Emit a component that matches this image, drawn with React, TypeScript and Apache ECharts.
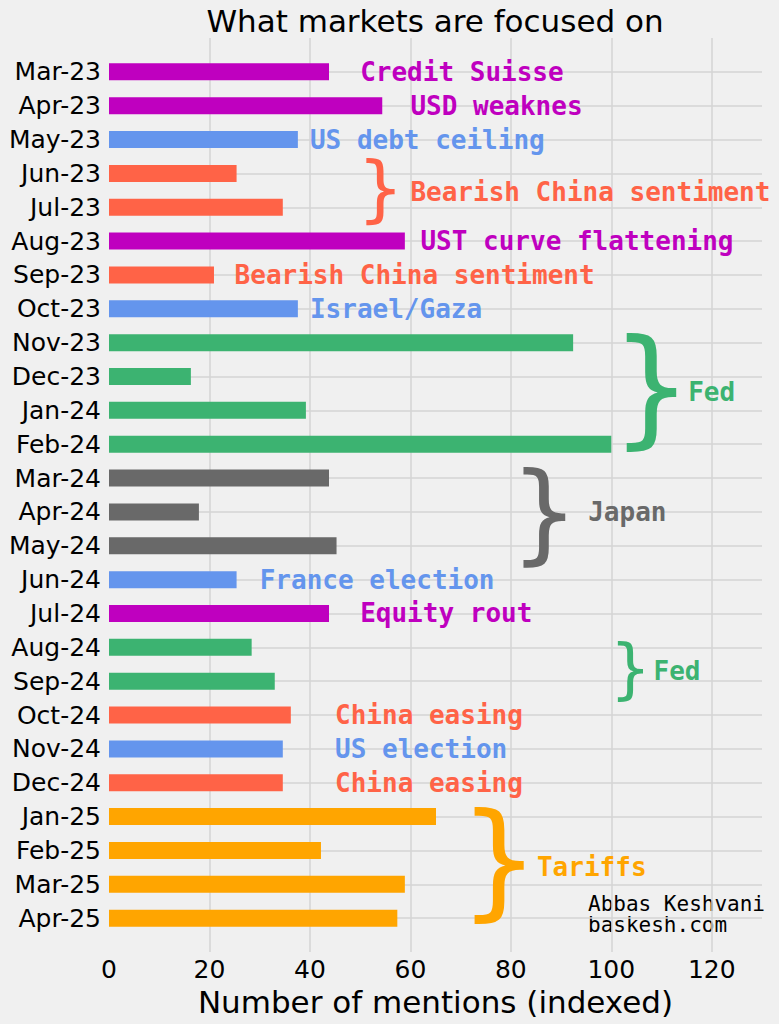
import React, { useEffect, useRef } from 'react';
import * as echarts from 'echarts';

const COLORS: Record<string, string> = {
  BG: '#f0f0f0',
  GRID: '#d4d4d4',
  TEXT: '#000000',
  purple: '#bf00bf',
  blue: '#6495ed',
  tomato: '#ff6347',
  green: '#3cb371',
  gray: '#696969',
  orange: '#ffa500',
};

const months = [
  'Mar-23', 'Apr-23', 'May-23', 'Jun-23', 'Jul-23', 'Aug-23', 'Sep-23', 'Oct-23',
  'Nov-23', 'Dec-23', 'Jan-24', 'Feb-24', 'Mar-24', 'Apr-24', 'May-24', 'Jun-24',
  'Jul-24', 'Aug-24', 'Sep-24', 'Oct-24', 'Nov-24', 'Dec-24', 'Jan-25', 'Feb-25',
  'Mar-25', 'Apr-25',
];

const mentions = [
  43.8, 54.4, 37.6, 25.4, 34.6, 58.9, 20.9, 37.6,
  92.4, 16.3, 39.2, 100, 43.8, 17.9, 45.3, 25.4,
  43.8, 28.4, 33.0, 36.2, 34.6, 34.6, 65.1, 42.2,
  58.9, 57.4,
];

const barThemes = [
  'purple', 'purple', 'blue', 'tomato', 'tomato', 'purple', 'tomato', 'blue',
  'green', 'green', 'green', 'green', 'gray', 'gray', 'gray', 'blue',
  'purple', 'green', 'green', 'tomato', 'blue', 'tomato', 'orange', 'orange',
  'orange', 'orange',
];

// annotations, placed in data coords (x = mentions, row = month index)
const noteTexts = [
  'Credit Suisse', 'USD weaknes', 'US debt ceiling', 'Bearish China sentiment',
  'UST curve flattening', 'Bearish China sentiment', 'Israel/Gaza', 'Fed',
  'Japan', 'France election', 'Equity rout', 'Fed',
  'China easing', 'US election', 'China easing', 'Tariffs',
];
const noteX = [50, 60, 40, 60, 62, 25, 40, 115.3, 95.4, 30, 50, 108.4, 45, 45, 45, 85.2];
const noteRow = [0, 1, 2, 3.55, 5, 6, 7, 9.45, 13, 15, 16, 17.7, 19, 20, 21, 23.5];
const noteThemes = [
  'purple', 'purple', 'blue', 'tomato', 'purple', 'tomato', 'blue', 'green',
  'gray', 'blue', 'purple', 'green', 'tomato', 'blue', 'tomato', 'orange',
];

const braceX = [51, 102.7, 82.2, 101.1, 72.4];
const braceRow = [3.5, 9.4, 13.1, 17.67, 23.37];
const braceThemes = ['tomato', 'green', 'gray', 'green', 'orange'];
const BRACE_FONT = [73, 128, 108, 65, 127];

const axisCats = [' ', ...months, '  '];

const rowPoint = (api: any, x: number, row: number) => {
  const lo = Math.floor(row);
  const hi = Math.ceil(row);
  const a = api.coord([x, lo + 1]);
  const b = api.coord([x, hi + 1]);
  return [a[0], a[1] + (b[1] - a[1]) * (row - lo)];
};

const App: React.FC = () => {
  const divEL = useRef<HTMLDivElement>(null);

  useEffect(() => {
    const instance = echarts.init(divEL.current as any, null, { renderer: 'svg' });

    const option: any = {
      animation: false,
      backgroundColor: COLORS.BG,
      textStyle: { fontFamily: 'DejaVu Sans' },
      grid: { left: 109, right: 17, top: 38, bottom: 72 },
      xAxis: {
        type: 'value',
        min: 0,
        max: 130,
        interval: 20,
        axisLine: { show: false },
        axisTick: { show: false },
        axisLabel: {
          color: COLORS.TEXT,
          fontSize: 25,
          fontFamily: 'DejaVu Sans',
          margin: 5,
          formatter: (v: number) => (v % 20 === 0 ? String(v) : ''),
        },
        splitLine: {
          show: true,
          showMinLine: false,
          showMaxLine: false,
          lineStyle: { color: COLORS.GRID, width: 1.5 },
        },
        name: 'Number of mentions (indexed)',
        nameLocation: 'middle',
        nameGap: 34,
        nameTextStyle: { color: COLORS.TEXT, fontSize: 31, fontFamily: 'DejaVu Sans' },
      },
      yAxis: {
        type: 'category',
        data: axisCats,
        inverse: true,
        boundaryGap: false,
        axisLine: { show: false },
        axisTick: { show: false },
        axisLabel: {
          interval: 0,
          color: COLORS.TEXT,
          fontSize: 25,
          fontFamily: 'DejaVu Sans',
          margin: 8,
        },
        splitLine: {
          show: true,
          interval: 0,
          showMinLine: false,
          showMaxLine: false,
          lineStyle: { color: COLORS.GRID, width: 1.5 },
        },
      },
      series: [
        {
          type: 'bar',
          barWidth: 17,
          data: [
            '-',
            ...mentions.map((v, i) => ({ value: v, itemStyle: { color: COLORS[barThemes[i]] } })),
            '-',
          ],
          z: 3,
        },
        {
          type: 'custom',
          z: 4,
          data: noteX.map((x, i) => [x, Math.round(noteRow[i]) + 1]),
          renderItem: (params: any, api: any) => {
            const i = params.dataIndex;
            const p = rowPoint(api, noteX[i], noteRow[i]);
            return {
              type: 'text',
              x: p[0],
              y: p[1],
              style: {
                text: noteTexts[i],
                fill: COLORS[noteThemes[i]],
                fontFamily: 'DejaVu Sans Mono',
                fontWeight: 'bold',
                fontSize: 26,
                align: 'left',
                verticalAlign: 'middle',
              },
            };
          },
        },
        {
          type: 'custom',
          z: 4,
          data: braceX.map((x, i) => [x, Math.round(braceRow[i]) + 1]),
          renderItem: (params: any, api: any) => {
            const i = params.dataIndex;
            const p = rowPoint(api, braceX[i], braceRow[i]);
            const fs = BRACE_FONT[i];
            return {
              type: 'text',
              x: p[0] - 0.11 * fs,
              y: p[1] - 0.03 * fs,
              style: {
                text: '}',
                fill: COLORS[braceThemes[i]],
                fontFamily: 'DejaVu Sans',
                fontSize: fs,
                align: 'left',
                verticalAlign: 'middle',
              },
            };
          },
        },
      ],
      graphic: [
        {
          type: 'text',
          x: 435,
          y: 21,
          style: {
            text: 'What markets are focused on',
            fill: COLORS.TEXT,
            fontFamily: 'DejaVu Sans',
            fontSize: 31,
            align: 'center',
            verticalAlign: 'middle',
          },
        },
        {
          type: 'text',
          x: 588,
          y: 904,
          style: {
            text: 'Abbas Keshvani',
            fill: COLORS.TEXT,
            fontFamily: 'DejaVu Sans Mono',
            fontSize: 21,
            align: 'left',
            verticalAlign: 'middle',
          },
        },
        {
          type: 'text',
          x: 588,
          y: 925,
          style: {
            text: 'baskesh.com',
            fill: COLORS.TEXT,
            fontFamily: 'DejaVu Sans Mono',
            fontSize: 21,
            align: 'left',
            verticalAlign: 'middle',
          },
        },
      ],
    };

    instance.setOption(option);

    return () => {
      instance.dispose();
    };
  }, []);

  return (
    <div
      ref={divEL}
      style={{ position: 'absolute', left: 0, top: 0, width: 779, height: 1024 }}
    ></div>
  );
};

export default App;
